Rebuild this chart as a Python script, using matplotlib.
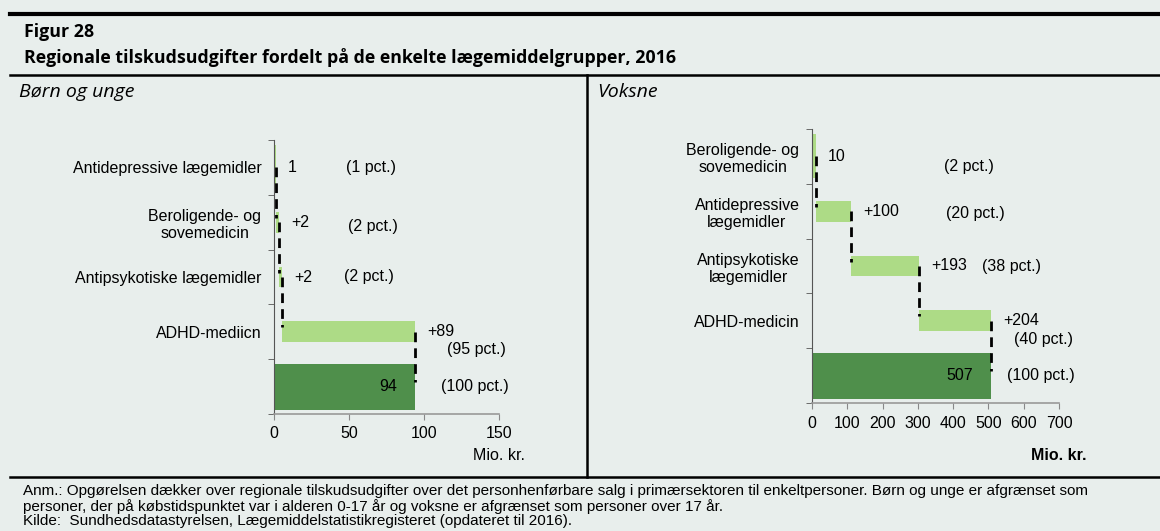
import matplotlib.pyplot as plt
from matplotlib.lines import Line2D
import numpy as np

# data
kids_labels = ['Antidepressive lægemidler', 'Beroligende- og\nsovemedicin',
               'Antipsykotiske lægemidler', 'ADHD-mediicn', '']
kids_steps = [1, 2, 2, 89]
kids_total = 94
kids_pct = ['(1 pct.)', '(2 pct.)', '(2 pct.)', '(95 pct.)', '(100 pct.)']

adult_labels = ['Beroligende- og\nsovemedicin', 'Antidepressive\nlægemidler',
                'Antipsykotiske\nlægemidler', 'ADHD-medicin', '']
adult_steps = [10, 100, 193, 204]
adult_total = 507
adult_pct = ['(2 pct.)', '(20 pct.)', '(38 pct.)', '(40 pct.)', '(100 pct.)']

kids_xticks = [0, 50, 100, 150]
adult_xticks = [0, 100, 200, 300, 400, 500, 600, 700]

BG = '#e8eeec'
LIGHT = '#addb86'
DARK = '#4f8f4b'
FONT = ['Liberation Sans', 'DejaVu Sans']
FS = 11.5

plt.rcParams['font.family'] = FONT


def waterfall(ax, labels, steps, total, pct, xmax, xticks, pct_x, pct_dy):
    ends = np.cumsum(steps)
    starts = ends - np.array(steps)
    n = len(steps)
    widths = [0.8] + [0.38] * (n - 1)
    ax.barh(range(n), steps, left=starts, height=widths, color=LIGHT)
    ax.barh(n, total, height=0.84, color=DARK)

    # stiplede forbindelseslinjer
    for i in range(n):
        ax.plot([ends[i], ends[i]], [i, i + 0.92], color='black', lw=2.0,
                ls=(0, (3.5, 2.2)), zorder=3)

    # tal ved søjlerne
    for i in range(n):
        txt = str(steps[i]) if i == 0 else '+%d' % steps[i]
        ax.annotate(txt, (ends[i], i), xytext=(9, 0), textcoords='offset points',
                    ha='left', va='center', fontsize=FS)
    ax.annotate(str(total), (total, n), xytext=(-13, 0), textcoords='offset points',
                ha='right', va='center', fontsize=FS)
    for i, p in enumerate(pct):
        ax.text(pct_x[i], i + pct_dy[i], p, ha='center', va='center', fontsize=FS)

    ax.set_xlim(0, xmax)
    ax.set_ylim(n + 0.5, -0.5)
    ax.set_xticks(xticks)
    ax.set_yticks(range(n + 1))
    ax.set_yticklabels(labels, fontsize=FS, multialignment='center')
    ax.tick_params(axis='y', length=0, pad=9)
    ax.set_yticks(np.arange(-0.5, n + 1, 1), minor=True)
    ax.tick_params(axis='y', which='minor', length=4, color='#555555')
    ax.tick_params(axis='x', length=4, color='#888888', labelsize=FS, pad=5)
    ax.set_facecolor(BG)
    for s in ['top', 'right']:
        ax.spines[s].set_visible(False)
    ax.spines['left'].set_color('#555555')
    ax.spines['bottom'].set_color('#999999')
    ax.spines['bottom'].set_linewidth(1.2)


fig = plt.figure(figsize=(11.6, 5.31), dpi=100, facecolor=BG)

ax1 = fig.add_axes([274 / 1160, 1 - 414 / 531, 225 / 1160, 274 / 531])
waterfall(ax1, kids_labels, kids_steps, kids_total, kids_pct, 150, kids_xticks,
          [65, 66, 63, 135, 134], [0, 0.08, 0, 0.33, 0])
ax1.text(1.0, -0.153, 'Mio. kr.', transform=ax1.transAxes, ha='center', va='center',
         fontsize=FS)

ax2 = fig.add_axes([812 / 1160, 1 - 403 / 531, 247 / 1160, 274 / 531])
waterfall(ax2, adult_labels, adult_steps, adult_total, adult_pct, 700, adult_xticks,
          [445, 462, 564, 657, 649], [0.19, 0.05, 0, 0.35, 0])
ax2.text(1.0, -0.19, 'Mio. kr.', transform=ax2.transAxes, ha='center', va='center',
         fontsize=FS, fontweight='bold')

# rammelinjer
fig.add_artist(Line2D([10 / 1160, 1], [1 - 13.5 / 531] * 2, color='black', lw=3))
fig.add_artist(Line2D([10 / 1160, 1], [1 - 75 / 531] * 2, color='black', lw=1.8))
fig.add_artist(Line2D([10 / 1160, 1], [1 - 477 / 531] * 2, color='black', lw=1.8))
fig.add_artist(Line2D([587 / 1160] * 2, [1 - 75 / 531, 1 - 477 / 531], color='black', lw=1.8))

# overskrifter
fig.text(24 / 1160, 1 - 32 / 531, 'Figur 28', fontsize=12.8, fontweight='bold',
         family='Open Sans', va='center')
fig.text(24 / 1160, 1 - 58 / 531,
         'Regionale tilskudsudgifter fordelt på de enkelte lægemiddelgrupper, 2016',
         fontsize=12.8, fontweight='bold', family='Open Sans', va='center')
fig.text(19 / 1160, 1 - 92 / 531, 'Børn og unge', fontsize=14, style='italic',
         family='Open Sans', va='center')
fig.text(597 / 1160, 1 - 92 / 531, 'Voksne', fontsize=14, style='italic',
         family='Open Sans', va='center')

# note
note = ('Anm.: Opgørelsen dækker over regionale tilskudsudgifter over det personhenførbare salg '
        'i primærsektoren til enkeltpersoner. Børn og unge er afgrænset som\n'
        'personer, der på købstidspunktet var i alderen 0-17 år og voksne er afgrænset som '
        'personer over 17 år.\n'
        'Kilde:  Sundhedsdatastyrelsen, Lægemiddelstatistikregisteret (opdateret til 2016).')
fig.text(23 / 1160, 1 - 484 / 531, note, fontsize=11, va='top', linespacing=1.05)

plt.savefig('out.png', dpi=100, facecolor=BG)
